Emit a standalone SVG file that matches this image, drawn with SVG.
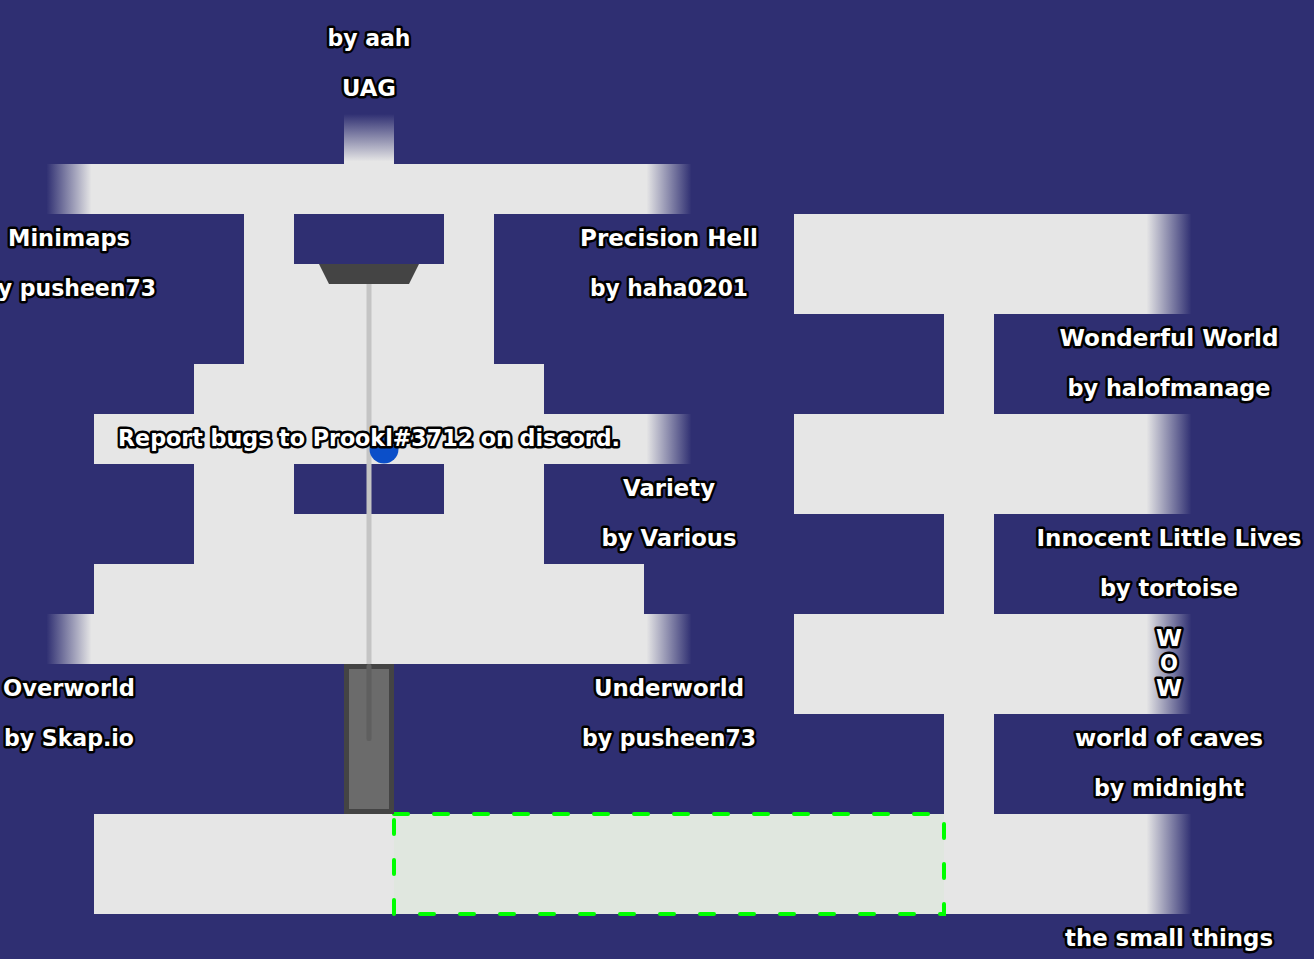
<svg xmlns="http://www.w3.org/2000/svg" width="1314" height="959" viewBox="0 0 1314 959">
<defs>
<linearGradient id="fadeL" x1="0" y1="0" x2="1" y2="0"><stop offset="0.05" stop-color="#e6e6e6" stop-opacity="0"/><stop offset="0.95" stop-color="#e6e6e6" stop-opacity="1"/></linearGradient>
<linearGradient id="fadeR" x1="0" y1="0" x2="1" y2="0"><stop offset="0.05" stop-color="#e6e6e6" stop-opacity="1"/><stop offset="0.95" stop-color="#e6e6e6" stop-opacity="0"/></linearGradient>
<linearGradient id="fadeU" x1="0" y1="0" x2="0" y2="1"><stop offset="0" stop-color="#e6e6e6" stop-opacity="0"/><stop offset="0.95" stop-color="#e6e6e6" stop-opacity="1"/></linearGradient>
<style>
.f{fill:#e6e6e6}
.t{font-family:"DejaVu Sans","Liberation Sans",sans-serif;font-weight:bold;font-size:23px;fill:#ffffff;stroke:#000000;stroke-width:5px;stroke-linejoin:round;paint-order:stroke;text-anchor:middle}
</style>
</defs>
<rect x="0" y="0" width="1314" height="959" fill="#2f2f72"/>
<g id="floor">
<rect class="f" x="94" y="164" width="550" height="50"/>
<rect x="44" y="164" width="50" height="50" fill="url(#fadeL)"/>
<rect x="644" y="164" width="50" height="50" fill="url(#fadeR)"/>
<rect x="344" y="114" width="50" height="50" fill="url(#fadeU)"/>
<rect class="f" x="244" y="214" width="50" height="50"/>
<rect class="f" x="444" y="214" width="50" height="50"/>
<rect class="f" x="244" y="264" width="250" height="100"/>
<rect class="f" x="194" y="364" width="350" height="50"/>
<rect class="f" x="94" y="414" width="550" height="50"/>
<rect x="644" y="414" width="50" height="50" fill="url(#fadeR)"/>
<rect class="f" x="194" y="464" width="100" height="50"/>
<rect class="f" x="444" y="464" width="100" height="50"/>
<rect class="f" x="194" y="514" width="350" height="50"/>
<rect class="f" x="94" y="564" width="550" height="50"/>
<rect class="f" x="94" y="614" width="550" height="50"/>
<rect x="44" y="614" width="50" height="50" fill="url(#fadeL)"/>
<rect x="644" y="614" width="50" height="50" fill="url(#fadeR)"/>
<rect class="f" x="94" y="814" width="1050" height="100"/>
<rect x="1144" y="814" width="50" height="100" fill="url(#fadeR)"/>
<rect class="f" x="794" y="214" width="350" height="100"/>
<rect x="1144" y="214" width="50" height="100" fill="url(#fadeR)"/>
<rect class="f" x="944" y="314" width="50" height="100"/>
<rect class="f" x="794" y="414" width="350" height="100"/>
<rect x="1144" y="414" width="50" height="100" fill="url(#fadeR)"/>
<rect class="f" x="944" y="514" width="50" height="100"/>
<rect class="f" x="794" y="614" width="350" height="100"/>
<rect x="1144" y="614" width="50" height="100" fill="url(#fadeR)"/>
<rect class="f" x="944" y="714" width="50" height="100"/>
</g>
<g id="zone">
<rect x="394" y="814" width="550" height="100" fill="#e0e7df" stroke="#00ff00" stroke-width="4" stroke-dasharray="14 26" stroke-linecap="round"/>
</g>
<g id="gate">
<polygon points="319,264 419,264 409,284 329,284" fill="#444444"/>
<rect x="366.5" y="284" width="5" height="380" fill="#c4c4c4"/>
<rect x="346.5" y="666.5" width="45" height="145" fill="#6b6b6b" stroke="#444444" stroke-width="5"/>
<rect x="366.5" y="664" width="5" height="77" rx="2" fill="#5f5f5f"/>
</g>
<g id="player">
<circle cx="384" cy="449" r="14.5" fill="#0b4fc9"/>
</g>
<g id="labels">
<text class="t" x="369" y="46" textLength="83" lengthAdjust="spacingAndGlyphs">by aah</text>
<text class="t" x="369" y="96" textLength="54" lengthAdjust="spacingAndGlyphs">UAG</text>
<text class="t" x="69" y="246" textLength="122" lengthAdjust="spacingAndGlyphs">Minimaps</text>
<text class="t" x="69" y="296" textLength="174" lengthAdjust="spacingAndGlyphs">by pusheen73</text>
<text class="t" x="669" y="246" textLength="178" lengthAdjust="spacingAndGlyphs">Precision Hell</text>
<text class="t" x="669" y="296" textLength="158" lengthAdjust="spacingAndGlyphs">by haha0201</text>
<text class="t" x="1169" y="346" textLength="219" lengthAdjust="spacingAndGlyphs">Wonderful World</text>
<text class="t" x="1169" y="396" textLength="203" lengthAdjust="spacingAndGlyphs">by halofmanage</text>
<text class="t" x="369" y="446" textLength="502" lengthAdjust="spacingAndGlyphs">Report bugs to Prookl#3712 on discord.</text>
<text class="t" x="669" y="496" textLength="92" lengthAdjust="spacingAndGlyphs">Variety</text>
<text class="t" x="669" y="546" textLength="135" lengthAdjust="spacingAndGlyphs">by Various</text>
<text class="t" x="1169" y="546" textLength="265" lengthAdjust="spacingAndGlyphs">Innocent Little Lives</text>
<text class="t" x="1169" y="596" textLength="138" lengthAdjust="spacingAndGlyphs">by tortoise</text>
<text class="t" x="1169" y="646" textLength="26" lengthAdjust="spacingAndGlyphs">W</text>
<text class="t" x="1169" y="671" textLength="18" lengthAdjust="spacingAndGlyphs">O</text>
<text class="t" x="1169" y="696" textLength="26" lengthAdjust="spacingAndGlyphs">W</text>
<text class="t" x="69" y="696" textLength="132" lengthAdjust="spacingAndGlyphs">Overworld</text>
<text class="t" x="69" y="746" textLength="130" lengthAdjust="spacingAndGlyphs">by Skap.io</text>
<text class="t" x="669" y="696" textLength="150" lengthAdjust="spacingAndGlyphs">Underworld</text>
<text class="t" x="669" y="746" textLength="174" lengthAdjust="spacingAndGlyphs">by pusheen73</text>
<text class="t" x="1169" y="746" textLength="188" lengthAdjust="spacingAndGlyphs">world of caves</text>
<text class="t" x="1169" y="796" textLength="150" lengthAdjust="spacingAndGlyphs">by midnight</text>
<text class="t" x="1169" y="946" textLength="208" lengthAdjust="spacingAndGlyphs">the small things</text>
</g>
</svg>
